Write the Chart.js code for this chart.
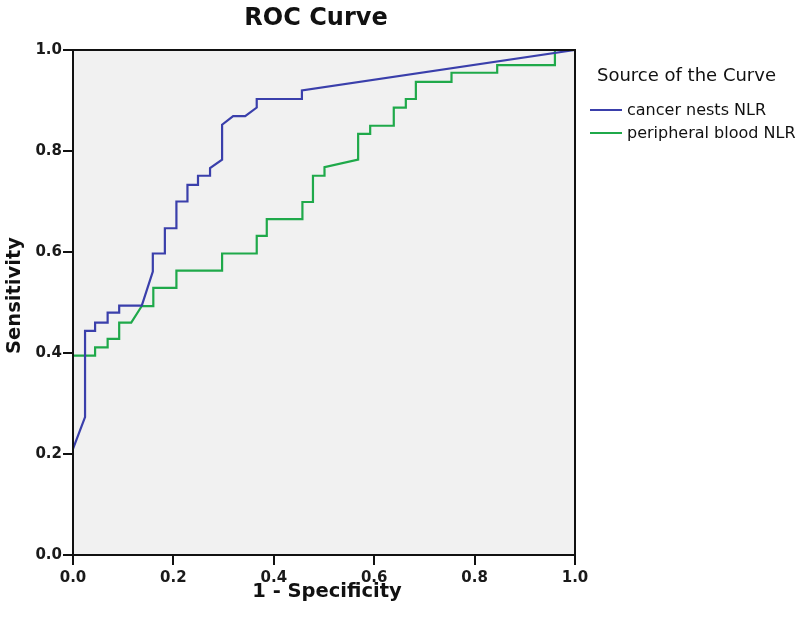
<!DOCTYPE html>
<html>
<head>
<meta charset="utf-8">
<script src="https://cdn.jsdelivr.net/npm/chart.js@4.4.1/dist/chart.umd.min.js"></script>
<style>
html,body{margin:0;padding:0;background:#fff;}
#wrap{width:800px;height:644px;position:relative;}
</style>
</head>
<body>
<div id="wrap"><canvas id="c" width="800" height="644"></canvas></div>
<script>
// ---- data ----
const seriesNames = ["cancer nests NLR", "peripheral blood NLR"];
const cancerFpr = [0, 0.024, 0.024, 0.044, 0.044, 0.069, 0.069, 0.092, 0.092, 0.137, 0.159, 0.159, 0.183, 0.183, 0.206, 0.206, 0.228, 0.228, 0.249, 0.249, 0.273, 0.273, 0.297, 0.297, 0.319, 0.343, 0.366, 0.366, 0.456, 0.456, 1.0];
const cancerTpr = [0.21, 0.273, 0.444, 0.444, 0.46, 0.46, 0.48, 0.48, 0.494, 0.494, 0.561, 0.597, 0.597, 0.647, 0.647, 0.70, 0.70, 0.733, 0.733, 0.751, 0.751, 0.766, 0.783, 0.852, 0.869, 0.869, 0.886, 0.903, 0.903, 0.920, 1.0];
const bloodFpr = [0, 0.044, 0.044, 0.069, 0.069, 0.092, 0.092, 0.116, 0.137, 0.160, 0.160, 0.206, 0.206, 0.297, 0.297, 0.366, 0.366, 0.386, 0.386, 0.457, 0.457, 0.478, 0.478, 0.501, 0.501, 0.568, 0.568, 0.592, 0.592, 0.639, 0.639, 0.663, 0.663, 0.683, 0.683, 0.754, 0.754, 0.845, 0.845, 0.960, 0.960, 1.0];
const bloodTpr = [0.395, 0.395, 0.411, 0.411, 0.428, 0.428, 0.46, 0.46, 0.493, 0.493, 0.529, 0.529, 0.563, 0.563, 0.597, 0.597, 0.632, 0.632, 0.665, 0.665, 0.699, 0.699, 0.751, 0.751, 0.768, 0.783, 0.834, 0.834, 0.850, 0.850, 0.886, 0.886, 0.903, 0.903, 0.937, 0.937, 0.955, 0.955, 0.970, 0.970, 1.0, 1.0];
const tickValues = [0, 0.2, 0.4, 0.6, 0.8, 1.0];
const chartTitle = "ROC Curve";
const xTitle = "1 - Specificity";
const yTitle = "Sensitivity";
const legendTitle = "Source of the Curve";

const colors = ["#3a3fab", "#1fa94a"];
const FONT = "'DejaVu Sans', sans-serif";
Chart.defaults.font.family = FONT;

function pts(xs, ys){ return xs.map((x,i)=>({x:x, y:ys[i]})); }

const decor = {
  id: 'decor',
  beforeDatasetsDraw(chart){
    const {ctx, chartArea:a} = chart;
    ctx.save();
    ctx.fillStyle = '#f1f1f1';
    ctx.fillRect(a.left, a.top, a.right-a.left, a.bottom-a.top);
    ctx.restore();
  },
  afterDraw(chart){
    const {ctx, chartArea:a} = chart;
    ctx.save();
    ctx.strokeStyle = '#111';
    ctx.lineWidth = 2;
    ctx.strokeRect(a.left, a.top, a.right-a.left, a.bottom-a.top);
    ctx.fillStyle = '#111';
    ctx.textAlign = 'center';
    ctx.textBaseline = 'middle';
    ctx.font = "bold 24px " + FONT;
    ctx.fillText(chartTitle, (a.left+a.right)/2 - 8, 19);
    ctx.font = "bold 19.5px " + FONT;
    ctx.fillText(xTitle, (a.left+a.right)/2 + 3, 592);
    ctx.save();
    ctx.translate(15, (a.top+a.bottom)/2 - 7);
    ctx.rotate(-Math.PI/2);
    ctx.fillText(yTitle, 0, 0);
    ctx.restore();
    // legend
    ctx.textAlign = 'left';
    ctx.font = "18px " + FONT;
    ctx.fillText(legendTitle, a.right + 22, 76);
    ctx.font = "16px " + FONT;
    const ys = [110, 133];
    chart.data.datasets.forEach((ds, i) => {
      ctx.strokeStyle = ds.borderColor;
      ctx.lineWidth = 2;
      ctx.beginPath();
      ctx.moveTo(a.right + 15, ys[i]);
      ctx.lineTo(a.right + 47, ys[i]);
      ctx.stroke();
      ctx.fillStyle = '#111';
      ctx.fillText(ds.label, a.right + 52, ys[i] + 1);
    });
    ctx.restore();
  }
};

const axisCommon = {
  type: 'linear', min: 0, max: 1,
  afterBuildTicks: s => { s.ticks = tickValues.map(v => ({value: v})); },
  grid: { display: true, drawOnChartArea: false, drawTicks: true, tickLength: 10, color: '#111', lineWidth: 2 },
  border: { display: true, color: '#111', width: 2 },
};

new Chart(document.getElementById('c'), {
  type: 'scatter',
  data: {
    datasets: [
      { label: seriesNames[0], data: pts(cancerFpr, cancerTpr), showLine: true, borderColor: colors[0], backgroundColor: colors[0], borderWidth: 2.2, pointRadius: 0, tension: 0 },
      { label: seriesNames[1], data: pts(bloodFpr, bloodTpr), showLine: true, borderColor: colors[1], backgroundColor: colors[1], borderWidth: 2.2, pointRadius: 0, tension: 0 }
    ]
  },
  options: {
    responsive: false,
    animation: false,
    devicePixelRatio: 1,
    layout: { padding: { top: 50, right: 225, bottom: 0, left: 0 } },
    plugins: { legend: { display: false }, title: { display: false }, tooltip: { enabled: false } },
    scales: {
      x: Object.assign({}, axisCommon, {
        position: 'bottom',
        ticks: { callback: v => Number(v).toFixed(1), font: { size: 15, weight: 'bold', family: FONT }, color: '#1a1a1a', padding: 4, maxRotation: 0 },
        afterFit: s => { s.height = 89; }
      }),
      y: Object.assign({}, axisCommon, {
        position: 'left',
        ticks: { callback: v => Number(v).toFixed(1), font: { size: 15, weight: 'bold', family: FONT }, color: '#1a1a1a', padding: 1 },
        afterFit: s => { s.width = 73; }
      })
    }
  },
  plugins: [decor]
});
</script>
</body>
</html>
